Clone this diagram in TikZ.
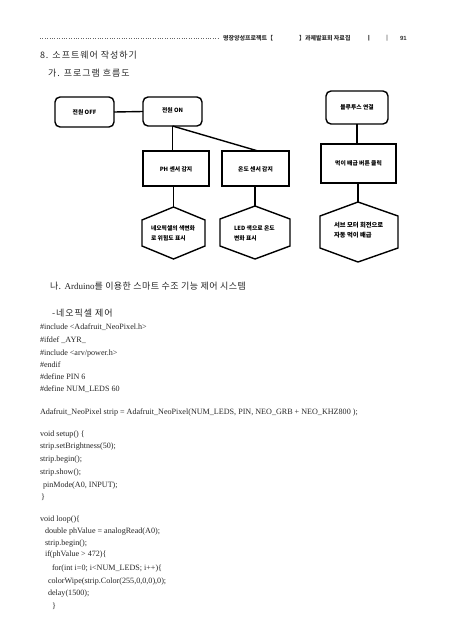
\documentclass[tikz,border=0pt]{standalone}
\usepackage{fontspec}
\setmainfont{Liberation Serif}
\newfontfamily\kr{Noto Sans CJK KR}
\newfontfamily\krsp[LetterSpace=11]{Noto Sans CJK KR}
\newfontfamily\krspb[LetterSpace=5]{Noto Sans CJK KR}
\usetikzlibrary{calc}
\begin{document}
\begin{tikzpicture}[x=1pt,y=-1pt,
  every node/.style={inner sep=0pt,outer sep=0pt},
  rbox/.style={draw,line width=1.4pt,rounded corners=5pt},
  sbox/.style={draw,line width=1.4pt},
  hexline/.style={draw,line width=1.4pt,line join=miter},
  conn/.style={line width=1.4pt},
  boxtxt/.style={font=\kr\bfseries\fontsize{5.8}{7}\selectfont},
  hextxt/.style={font=\kr\bfseries\fontsize{5.8}{10}\selectfont,anchor=west,align=left},
  head/.style={font=\krsp\fontsize{9}{11}\selectfont,anchor=base west,text=black!85},
  code/.style={font=\fontsize{8.1}{10}\selectfont,anchor=base west,text=black!85},
  hdr/.style={font=\kr\bfseries\fontsize{6}{7}\selectfont,anchor=base west,text=black!80}
]
\useasboundingbox[fill=white] (0,0) rectangle (452,640);

% header
\coordinate (dl) at (40,38);
\coordinate (dr) at (219,38);
\draw[dotted,line width=0.4pt,black!60] (dl) -- (dr);
\node[hdr] (h1) at (223,40) {명장양성프로젝트【};
\node[hdr] (h2) at (299,40) {】과제발표회 자료집};
\node[hdr] (h3) at (366,40) {ㅣ};
\node[hdr] (h4) at (384,40) {‖};
\node[hdr] (h5) at (400,40) {\fontspec{Liberation Sans}91};

% headings
\node[head] (t1) at (40,58) {8. 소프트웨어 작성하기};
\node[head] (t2) at (48,76) {가. 프로그램 흐름도};

% flowchart boxes
\node[rbox,minimum width=59pt,minimum height=30pt] (off) at (84.5,112) {};
\node[boxtxt] at (off) {전원 OFF};
\node[rbox,minimum width=59pt,minimum height=29pt] (on) at (172.5,111.5) {};
\node[boxtxt] at (172.5,110) {전원 ON};
\node[rbox,minimum width=62pt,minimum height=33pt] (bt) at (357,107.5) {};
\node[boxtxt] at (357,107) {블루투스 연결};

\node[sbox,minimum width=66pt,minimum height=35pt] (ph) at (176,168.5) {};
\node[boxtxt] at (176,169.5) {PH 센서 감지};
\node[sbox,minimum width=67pt,minimum height=35pt] (temp) at (255.5,168.5) {};
\node[boxtxt] at (255.5,169.5) {온도 센서 감지};
\node[sbox,minimum width=75pt,minimum height=39pt] (feed) at (358.5,163.5) {};
\node[boxtxt] at (358.5,163.5) {먹이 배급 버튼 클릭};

% hexagons
\coordinate (hxa) at (173.5,207);
\draw[hexline] (hxa) -- (205,220) -- (205,246) -- (173.5,259) -- (142,246) -- (142,220) -- cycle;
\node[hextxt] (hta) at (151,233) {네오픽셀의 색변화\\로 위험도 표시};

\coordinate (hxb) at (255,206);
\draw[hexline] (hxb) -- (290,219) -- (290,246) -- (255,259) -- (220,246) -- (220,219) -- cycle;
\node[hextxt] (htb) at (234,233) {LED 색으로 온도\\변화 표시};

\coordinate (hxc) at (358,202);
\draw[hexline] (hxc) -- (398,216) -- (398,248) -- (358,262) -- (320,248) -- (320,216) -- cycle;
\node[hextxt,font=\kr\bfseries\fontsize{6.3}{10}\selectfont] (htc) at (334,230) {서브 모터 회전으로\\자동 먹이 배급};

% connectors
\draw[conn] (off.east) -- (on.west);
\draw[conn] (on.south) -- (on.south |- ph.north);
\draw[conn] (on.south) -- ($(temp.north)+(2.5,0)$);
\draw[conn] (bt.south) -- (bt.south |- feed.north);
\draw[conn] (ph.south -| hxa) -- (hxa);
\draw[conn] (temp.south -| hxb) -- (hxb);
\draw[conn] (feed.south -| hxc) -- (hxc);

% section 나
\node[head,font=\krspb\fontsize{9}{11}\selectfont] (t3) at (50,289) {나. {\fontspec{Liberation Serif}Arduino}를 이용한 스마트 수조 기능 제어 시스템};
\node[head] (t4) at (52,316) {-네오픽셀 제어};

% code
\node[code] (c1) at (40,329) {\#include <Adafruit\_NeoPixel.h>};
\node[code] (c2) at (40,342) {\#ifdef \_AYR\_};
\node[code] (c3) at (40,355) {\#include <arv/power.h>};
\node[code] (c4) at (40,367) {\#endif};
\node[code] (c5) at (40,379) {\#define PIN 6};
\node[code] (c6) at (40,391) {\#define NUM\_LEDS 60};
\node[code] (c7) at (40,414) {Adafruit\_NeoPixel strip = Adafruit\_NeoPixel(NUM\_LEDS, PIN, NEO\_GRB + NEO\_KHZ800 );};
\node[code] (c8) at (40,436) {void setup() \{};
\node[code] (c9) at (40,448) {strip.setBrightness(50);};
\node[code] (c10) at (40,461) {strip.begin();};
\node[code] (c11) at (40,474) {strip.show();};
\node[code] (c12) at (43,487) {pinMode(A0, INPUT);};
\node[code] (c13) at (41,499) {\}};
\node[code] (c14) at (40,521) {void loop()\{};
\node[code] (c15) at (45,533) {double phValue = analogRead(A0);};
\node[code] (c16) at (45,545) {strip.begin();};
\node[code] (c17) at (45,556) {if(phValue > 472)\{};
\node[code] (c18) at (52,570) {for(int i=0; i<NUM\_LEDS; i++)\{};
\node[code] (c19) at (48,583) {colorWipe(strip.Color(255,0,0,0),0);};
\node[code] (c20) at (48,595) {delay(1500);};
\node[code] (c21) at (52,608) {\}};
\end{tikzpicture}
\end{document}
